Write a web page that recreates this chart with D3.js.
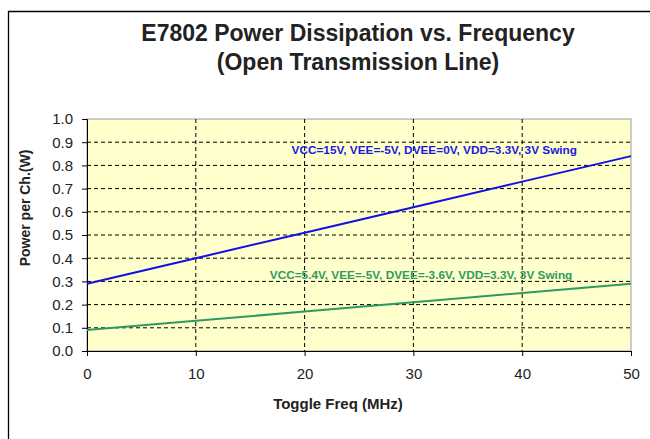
<!DOCTYPE html>
<html>
<head>
<meta charset="utf-8">
<script src="https://cdn.jsdelivr.net/npm/d3@7"></script>
<style>
  body { margin: 0; background: #fff; }
  text { font-family: "Liberation Sans", Arial, sans-serif; }
</style>
</head>
<body>
<div id="chart"></div>
<script>
// data
const freqs = [0, 10, 20, 30, 40, 50];
const power15V = [0.29, 0.40, 0.51, 0.62, 0.73, 0.84];
const power54V = [0.09, 0.13, 0.17, 0.21, 0.25, 0.29];
const yTicks = [0, 0.1, 0.2, 0.3, 0.4, 0.5, 0.6, 0.7, 0.8, 0.9, 1.0];
const xTicks = [0, 10, 20, 30, 40, 50];

const W = 650, H = 439;
const margin = {top: 119, right: 19, bottom: 88, left: 87},
    width = W - margin.left - margin.right,
    height = H - margin.top - margin.bottom;

const svg = d3.select("#chart")
    .append("svg")
    .attr("width", W)
    .attr("height", H);

// outer frame (only top and left visible)
svg.append("path")
    .attr("d", `M8.5,${H} V11.5 H${W}`)
    .attr("fill", "none")
    .attr("stroke", "#000")
    .attr("stroke-width", 1.3);

const g = svg.append("g")
    .attr("transform", `translate(${margin.left},${margin.top})`);

const x = d3.scaleLinear().domain([0, 50]).range([0, width]);
const y = d3.scaleLinear().domain([0, 1]).range([height, 0]);

// plot background
g.append("rect")
    .attr("width", width)
    .attr("height", height)
    .attr("fill", "#ffffcc")
    .attr("stroke", "#999")
    .attr("stroke-width", 1);

// grid lines
g.append("g")
    .selectAll("line")
    .data(yTicks.slice(1, -1))
    .join("line")
    .attr("x1", 0).attr("x2", width)
    .attr("y1", d => y(d)).attr("y2", d => y(d))
    .attr("stroke", "#000")
    .attr("stroke-dasharray", "4,3");
g.append("g")
    .selectAll("line")
    .data(xTicks.slice(1, -1))
    .join("line")
    .attr("x1", d => x(d)).attr("x2", d => x(d))
    .attr("y1", 0).attr("y2", height)
    .attr("stroke", "#000")
    .attr("stroke-dasharray", "4,3");

// axes
const yAxis = g.append("g")
    .call(d3.axisLeft(y).tickValues(yTicks).tickFormat(d3.format(".1f")).tickSize(5).tickPadding(9));
const xAxis = g.append("g")
    .attr("transform", `translate(0, ${height})`)
    .call(d3.axisBottom(x).tickValues(xTicks).tickSize(5).tickPadding(12));
[yAxis, xAxis].forEach(a => {
    a.select(".domain").attr("stroke", "#000");
    a.selectAll(".tick line").attr("stroke", "#000");
    a.selectAll("text")
        .style("font-size", "15px")
        .style("fill", "#222")
        .style("font-family", "Liberation Sans, Arial, sans-serif");
});

// lines
const line = d3.line().x(d => x(d[0])).y(d => y(d[1]));
g.append("path")
    .datum(d3.zip(freqs, power15V))
    .attr("fill", "none")
    .attr("stroke", "#1010e8")
    .attr("stroke-width", 2)
    .attr("d", line);
g.append("path")
    .datum(d3.zip(freqs, power54V))
    .attr("fill", "none")
    .attr("stroke", "#2e9a62")
    .attr("stroke-width", 2)
    .attr("d", line);

// annotations
g.append("text")
    .attr("x", x(18.8))
    .attr("y", y(0.848))
    .style("font-size", "11.8px")
    .style("font-weight", "bold")
    .style("fill", "#1a1ae0")
    .text("VCC=15V, VEE=-5V, DVEE=0V, VDD=3.3V, 3V Swing");
g.append("text")
    .attr("x", x(16.8))
    .attr("y", y(0.31))
    .style("font-size", "11.8px")
    .style("font-weight", "bold")
    .style("fill", "#2e9a62")
    .text("VCC=5.4V, VEE=-5V, DVEE=-3.6V, VDD=3.3V, 3V Swing");

// titles
svg.append("text")
    .attr("text-anchor", "middle")
    .attr("x", 358)
    .attr("y", 41)
    .style("font-size", "23px")
    .style("font-weight", "bold")
    .style("fill", "#222")
    .text("E7802 Power Dissipation vs. Frequency");
svg.append("text")
    .attr("text-anchor", "middle")
    .attr("x", 358)
    .attr("y", 70)
    .style("font-size", "23px")
    .style("font-weight", "bold")
    .style("fill", "#222")
    .text("(Open Transmission Line)");

svg.append("text")
    .attr("text-anchor", "middle")
    .attr("x", 338)
    .attr("y", 409)
    .style("font-size", "15px")
    .style("font-weight", "bold")
    .style("fill", "#222")
    .text("Toggle Freq (MHz)");

svg.append("text")
    .attr("text-anchor", "middle")
    .attr("transform", `translate(30, 208) rotate(-90)`)
    .style("font-size", "14px")
    .style("font-weight", "bold")
    .style("fill", "#222")
    .text("Power per Ch.(W)");
</script>
</body>
</html>
